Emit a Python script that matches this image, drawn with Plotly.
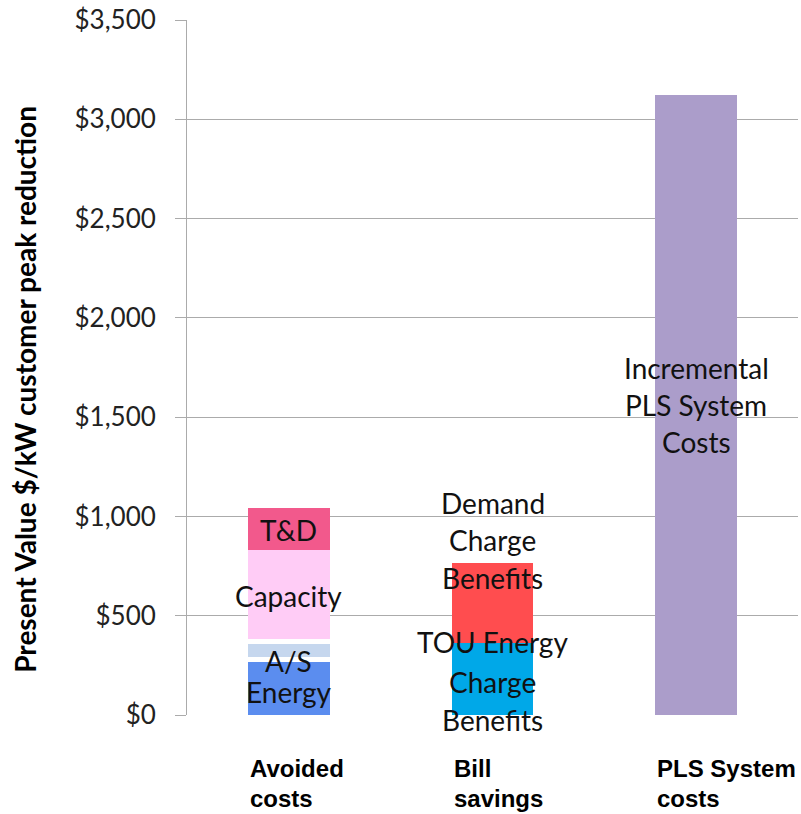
import plotly.graph_objects as go

# Categories on the x axis
categories = ["Avoided costs", "Bill savings", "PLS System costs"]
category_lines = [["Avoided", "costs"], ["Bill", "savings"], ["PLS System", "costs"]]

# Stacked components, $/kW present value (bottom to top)
avoided_energy = 267
avoided_energy_other = 25
avoided_as = 65
avoided_as_other = 26
avoided_capacity = 446
avoided_td = 213

bill_tou_energy = 363
bill_demand_charge = 402

pls_incremental = 3120

y_ticks = [0, 500, 1000, 1500, 2000, 2500, 3000, 3500]
y_tick_text = ["$0", "$500", "$1,000", "$1,500", "$2,000", "$2,500", "$3,000", "$3,500"]

series = [
    ("Energy", [avoided_energy, None, None], "#5B8DEF"),
    ("Energy (other)", [avoided_energy_other, None, None], "#FFFFFF"),
    ("A/S", [avoided_as, None, None], "#C6D7EE"),
    ("A/S (other)", [avoided_as_other, None, None], "#FFFFFF"),
    ("Capacity", [avoided_capacity, None, None], "#FFCCF6"),
    ("T&D", [avoided_td, None, None], "#F2598C"),
    ("TOU Energy Charge Benefits", [None, bill_tou_energy, None], "#00A8E8"),
    ("Demand Charge Benefits", [None, bill_demand_charge, None], "#FF4D4F"),
    ("Incremental PLS System Costs", [None, None, pls_incremental], "#AB9DCA"),
]

# In-chart labels: (category index, value level, pixel shift, text)
bar_labels = [
    (0, 932, 0, "T&D"),
    (0, 597, 0, "Capacity"),
    (0, 272, 0, "A/S"),
    (0, 114, 0, "Energy"),
    (1, 1068, 0, "Demand"),
    (1, 880, 0, "Charge"),
    (1, 690, 0, "Benefits"),
    (1, 368, 0, "TOU Energy"),
    (1, 168, 0, "Charge"),
    (1, 0, -5, "Benefits"),
    (2, 1745, 0, "Incremental"),
    (2, 1560, 0, "PLS System"),
    (2, 1375, 0, "Costs"),
]

BAR_WIDTH = 0.4
LABEL_FONT = "Lato, 'Noto Sans', sans-serif"

fig = go.Figure()
for name, vals, color in series:
    fig.add_trace(go.Bar(
        x=categories, y=vals, name=name,
        marker=dict(color=color, line=dict(width=0)),
        width=BAR_WIDTH, showlegend=False, hoverinfo="skip",
    ))

annotations = []
for idx, level, shift, text in bar_labels:
    annotations.append(dict(
        x=idx, y=level, xref="x", yref="y", yshift=shift, text=text,
        showarrow=False, xanchor="center", yanchor="middle",
        font=dict(family=LABEL_FONT, size=28, color="#111111"),
    ))

# Category names, left-aligned with each bar
for idx, lines in enumerate(category_lines):
    for k, line in enumerate(lines):
        annotations.append(dict(
            x=idx - BAR_WIDTH / 2, y=0, xref="x", yref="paper", text=line,
            showarrow=False, xanchor="left", yanchor="middle",
            yshift=-53 - 30 * k,
            font=dict(family="'Liberation Sans', Arial, sans-serif", size=24,
                      color="#000000", weight="bold"),
        ))

# Vertical axis title
annotations.append(dict(
    x=0, y=0.468, xref="paper", yref="paper", xshift=-162,
    text="Present Value $/kW customer peak reduction", textangle=-90,
    showarrow=False, xanchor="center", yanchor="middle",
    font=dict(family=LABEL_FONT, size=28, color="#000000", weight="bold"),
))

fig.update_layout(
    barmode="stack",
    width=801, height=814,
    margin=dict(l=187, r=3, t=20, b=99),
    paper_bgcolor="white", plot_bgcolor="white",
    annotations=annotations,
    xaxis=dict(
        type="category", range=[-0.5, 2.5], showticklabels=False,
        showgrid=False, zeroline=False, showline=False, ticks="",
    ),
    yaxis=dict(
        range=[0, 3500], tickvals=y_ticks, ticktext=y_tick_text,
        showgrid=True, gridcolor="#ABABAB", gridwidth=1,
        zeroline=False, showline=True, linecolor="#ABABAB", linewidth=1,
        ticks="outside", ticklen=11, tickcolor="#ABABAB",
        ticklabelstandoff=14,
        tickfont=dict(family=LABEL_FONT, size=26, color="#222222"),
    ),
)

fig.write_html("out.html")
